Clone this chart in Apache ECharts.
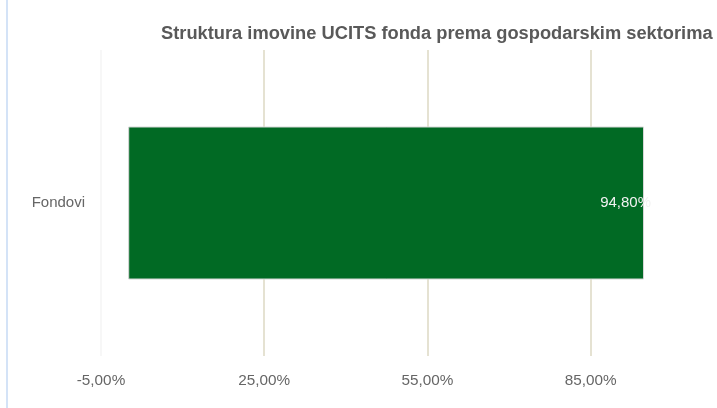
<!DOCTYPE html>
<html>
<head>
<meta charset="utf-8">
<style>
  html, body { margin: 0; padding: 0; background: #fff; }
  #chart { width: 717px; height: 408px; }
</style>
<script src="https://cdn.jsdelivr.net/npm/echarts@6/dist/echarts.min.js"></script>
</head>
<body>
<div id="chart"></div>
<script>
// Asset structure of UCITS funds by economic sector
const categories = ['Fondovi'];
const shares = [94.8];
const tickValues = [-5, 25, 55, 85];

const FONT = '"Liberation Sans", Arial, sans-serif';
const fmt = v => v.toFixed(2).replace('.', ',') + '%';

const chart = echarts.init(document.getElementById('chart'), null, { renderer: 'canvas' });
chart.setOption({
  animation: false,
  title: {
    text: 'Struktura imovine UCITS fonda prema gospodarskim sektorima',
    left: 156,
    top: 20,
    textStyle: {
      fontFamily: FONT,
      fontSize: 18.3,
      fontWeight: 'bold',
      color: '#595959'
    }
  },
  graphic: [{
    type: 'line',
    shape: { x1: 7, y1: 0, x2: 7, y2: 408 },
    style: { stroke: '#d4e3f7', lineWidth: 2 }
  }],
  grid: { left: 101, right: 73, top: 50, bottom: 52, containLabel: false },
  xAxis: {
    type: 'value',
    min: -5,
    max: Math.max(...shares),
    interval: 30,
    axisLine: { show: false },
    axisTick: { show: false },
    axisLabel: {
      showMaxLabel: false,
      margin: 17,
      fontFamily: FONT,
      fontSize: 15.3,
      color: '#666666',
      formatter: v => tickValues.includes(Math.round(v * 100) / 100) ? fmt(v) : ''
    },
    splitLine: {
      show: true,
      lineStyle: {
        color: ['#f4f4f4', '#ddd8c3', '#ddd8c3', '#ddd8c3', 'rgba(0,0,0,0)'],
        width: 1.5
      }
    }
  },
  yAxis: {
    type: 'category',
    data: categories,
    axisLine: { show: false },
    axisTick: { show: false },
    axisLabel: {
      margin: 16,
      fontFamily: FONT,
      fontSize: 15,
      color: '#666666'
    }
  },
  series: [{
    type: 'bar',
    data: shares,
    barWidth: '50%',
    itemStyle: {
      color: '#016a24',
      borderColor: '#d6d6d6',
      borderWidth: 1
    },
    label: {
      show: true,
      position: 'insideRight',
      distance: 0,
      offset: [7, 0],
      fontFamily: FONT,
      fontSize: 15,
      color: '#f2f2f2',
      formatter: p => fmt(p.value)
    }
  }]
});
</script>
</body>
</html>
